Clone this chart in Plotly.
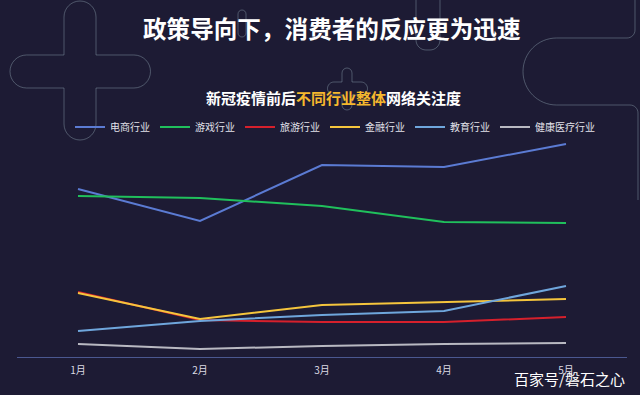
import plotly.graph_objects as go

months = ["1月", "2月", "3月", "4月", "5月"]
series_names = ["电商行业", "游戏行业", "旅游行业", "金融行业", "教育行业", "健康医疗行业"]
dianshang = [168, 136, 192, 190, 213]
youxi = [161, 159, 151, 135, 134]
lvyou = [65, 37, 35, 35, 40]
jinrong = [64, 38, 52, 55, 58]
jiaoyu = [26, 36, 42, 46, 71]
jiankang = [13, 8, 11, 13, 14]

colors = ["#5b7bd3", "#20c05c", "#d6202c", "#f5c53d", "#6fa6dc", "#b9b9c2"]
values = [dianshang, youxi, lvyou, jinrong, jiaoyu, jiankang]

W, H = 640, 395
L, R, T, B = 17, 13, 140, 38
PW, PH = W - L - R, H - T - B
BG = "#1d1b34"


def px(x):
    return (x - L) / PW


def py(y):
    return (H - B - y) / PH


def P(x, y):
    return f"{px(x):.5f},{py(y):.5f}"


K = 0.5523


def arc(cx, cy, r, a0, a1):
    import math
    out = ""
    step = 90 if a1 > a0 else -90
    a = a0
    while a != a1:
        b = a + step
        ra, rb = math.radians(a), math.radians(b)
        x0, y0 = cx + r * math.cos(ra), cy + r * math.sin(ra)
        x1, y1 = cx + r * math.cos(rb), cy + r * math.sin(rb)
        s = 1 if step > 0 else -1
        t0x, t0y = -math.sin(ra) * s, math.cos(ra) * s
        t1x, t1y = -math.sin(rb) * s, math.cos(rb) * s
        c1 = (x0 + K * r * t0x, y0 + K * r * t0y)
        c2 = (x1 - K * r * t1x, y1 - K * r * t1y)
        out += f" C{P(*c1)} {P(*c2)} {P(x1, y1)}"
        a = b
    return out


fig = go.Figure()
for name, vals, c in zip(series_names, values, colors):
    fig.add_trace(go.Scatter(x=months, y=vals, name=name, mode="lines",
                             line=dict(color=c, width=2)))

deco = "rgba(140,160,172,0.45)"
shapes = []

r = 16
plus = (f"M{P(64,55)} L{P(64,17)}" + arc(80, 17, r, 180, 360) +
        f" L{P(96,55)} L{P(134,55)}" + arc(134, 71.5, 16.5, 270, 450) +
        f" L{P(96,88)} L{P(96,124)}" + arc(80, 124, r, 0, 180) +
        f" L{P(64,88)} L{P(26.5,88)}" + arc(26.5, 71.5, 16.5, 90, 270) + " Z")
shapes.append(dict(type="path", path=plus, xref="paper", yref="paper",
                   line=dict(color=deco, width=1), layer="below"))

sp = (f"M{P(342,82)} L{P(342,73)}" + arc(347, 73, 5, 180, 360) +
      f" L{P(352,82)} L{P(361,82)}" + arc(361, 88.5, 6.5, 270, 450) +
      f" L{P(352,95)} L{P(352,105)}" + arc(347, 105, 5, 0, 180) +
      f" L{P(342,95)} L{P(334,95)}" + arc(334, 88.5, 6.5, 90, 270) + " Z")
shapes.append(dict(type="path", path=sp, xref="paper", yref="paper",
                   line=dict(color=deco, width=1), layer="below"))

pill = (f"M{P(238,14)}" + arc(242, 14, 4, 180, 360) + f" L{P(246,33)}" +
        arc(242, 33, 4, 0, 180) + " Z")
shapes.append(dict(type="path", path=pill, xref="paper", yref="paper",
                   line=dict(color=deco, width=1), layer="below"))

u = (f"M{P(416,0)} L{P(416,40)}" + arc(426, 40, 10, 180, 90) +
     f" L{P(430,50)}" + arc(430, 40, 10, 90, 0) + f" L{P(440,0)}")
shapes.append(dict(type="path", path=u, xref="paper", yref="paper",
                   line=dict(color=deco, width=1), layer="below"))

rs = (f"M{P(635,0)} L{P(635,30)}" + arc(627, 30, 8, 0, 90) +
      f" L{P(556.5,38)}" + arc(556.5, 71.5, 33.5, 270, 90) +
      f" L{P(630,105)}" + arc(630, 113, 8, 270, 360) + f" L{P(638,200)}")
shapes.append(dict(type="path", path=rs, xref="paper", yref="paper",
                   line=dict(color=deco, width=1), layer="below"))

fig.update_layout(
    width=W, height=H,
    margin=dict(l=L, r=R, t=T, b=B, autoexpand=False),
    paper_bgcolor=BG, plot_bgcolor=BG,
    font=dict(family="Noto Sans CJK SC", color="#e6e6ee"),
    showlegend=True,
    legend=dict(orientation="h", x=px(335), xanchor="center", y=py(127),
                yanchor="middle", font=dict(size=10, color="#e2e2ea"),
                itemwidth=30, bgcolor="rgba(0,0,0,0)", tracegroupgap=0),
    xaxis=dict(type="category", range=[-0.5, 4.5], showgrid=False, zeroline=False,
               showline=True, linecolor="#4b5890", linewidth=1,
               ticks="outside", ticklen=4, tickcolor=BG,
               tickfont=dict(size=10, color="#dcdce4")),
    yaxis=dict(range=[0, PH], showgrid=False, zeroline=False, showline=False,
               showticklabels=False),
    shapes=shapes,
    annotations=[
        dict(text="<b>政策导向下，消费者的反应更为迅速</b>", x=px(332), y=py(28),
             xref="paper", yref="paper", showarrow=False, xanchor="center",
             yanchor="middle", font=dict(size=23.6, color="#ffffff",
                                         family="Noto Sans CJK SC")),
        dict(text="<b>新冠疫情前后<span style='color:#f5b82e'>不同行业整体</span>网络关注度</b>",
             x=px(333), y=py(97), xref="paper", yref="paper", showarrow=False,
             xanchor="center", yanchor="middle",
             font=dict(size=15, color="#ffffff", family="Noto Sans CJK SC")),
        dict(text="百家号/磐石之心", x=px(569), y=py(378), xref="paper", yref="paper",
             showarrow=False, xanchor="center", yanchor="middle",
             font=dict(size=15, color="#ffffff", family="Noto Sans CJK SC")),
    ],
)

fig.write_html("out.html", config={"displayModeBar": False},
               post_script="document.body.style.margin='0';document.body.style.background='%s';" % BG)
